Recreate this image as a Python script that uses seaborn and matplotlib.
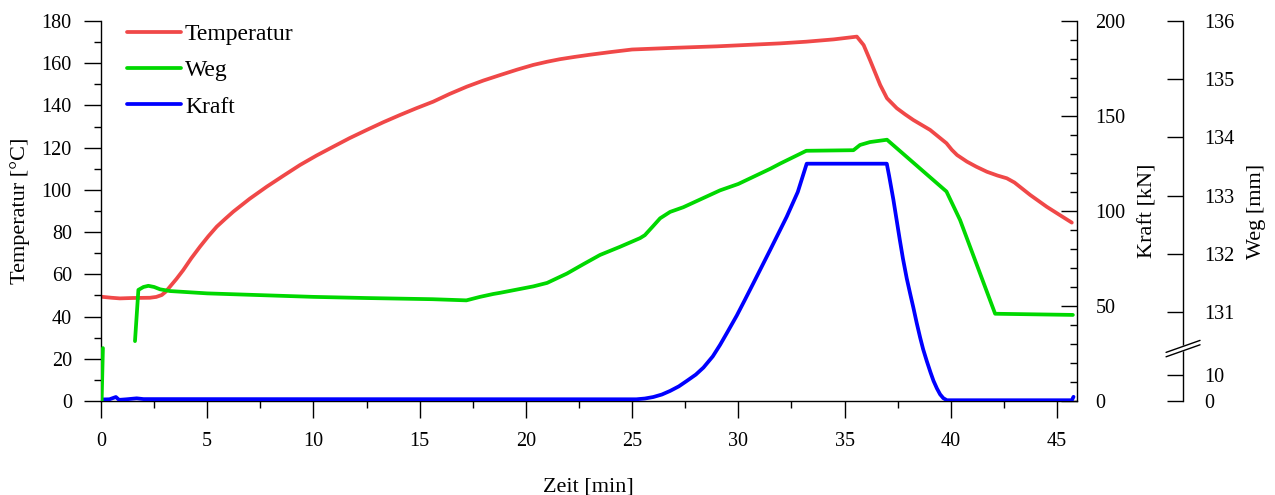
import numpy as np
import pandas as pd
import matplotlib
matplotlib.use("Agg")
import matplotlib.pyplot as plt
import seaborn as sns
from matplotlib.ticker import MultipleLocator, NullLocator

# ---- data ----
temp_t = [0.0, 0.5, 0.89, 1.5, 2.3, 2.6, 2.86, 3.05, 3.25, 3.55, 3.87, 4.25,
          4.66, 5.05, 5.45, 5.85, 6.23, 7.0, 7.8, 8.6, 9.37, 10.15, 10.94,
          11.7, 12.51, 13.3, 14.08, 14.85, 15.64, 16.4, 17.22, 18.0, 18.79,
          19.6, 20.35, 21.0, 21.6, 22.3, 23.0, 24.0, 25.0, 26.0, 27.0, 29.0,
          31.97, 33.2, 34.5, 35.58, 35.9, 36.2, 36.68, 37.0, 37.46, 37.85,
          38.24, 39.03, 39.8, 40.05, 40.3, 40.76, 41.2, 41.7, 42.2, 42.64,
          43.0, 43.74, 44.52, 45.1, 45.7]
temp_c = [49.4, 48.9, 48.6, 48.8, 48.9, 49.3, 50.2, 51.8, 54.2, 57.8, 62.0,
          67.6, 73.1, 78.0, 82.6, 86.3, 89.7, 95.8, 101.5, 106.8, 111.8, 116.3,
          120.5, 124.5, 128.4, 132.1, 135.5, 138.7, 141.8, 145.4, 148.9, 151.8,
          154.4, 157.0, 159.2, 160.7, 161.9, 163.0, 164.0, 165.3, 166.5, 166.9,
          167.3, 168.0, 169.4, 170.2, 171.3, 172.6, 168.6, 161.5, 149.7, 143.4,
          138.7, 135.8, 133.1, 128.4, 122.1, 119.0, 116.5, 113.4, 111.0, 108.6,
          106.8, 105.5, 103.5, 97.6, 92.0, 88.3, 84.5]

weg_spike_t = [0.03, 0.09]
weg_spike_mm = [0.0, 130.38]
weg_t = [1.6, 1.76, 2.0, 2.23, 2.5, 2.78, 3.25, 5.0, 7.49, 10.0, 12.5, 15.6,
         17.2, 17.84, 18.47, 18.79, 20.35, 21.0, 21.93, 22.7, 23.49, 24.43,
         25.38, 25.6, 26.0, 26.32, 26.79, 27.41, 29.14, 30.0, 31.5, 31.97,
         33.2, 35.42, 35.73, 36.2, 37.0, 39.8, 40.44, 42.09, 45.75]
weg_mm = [130.50, 131.38, 131.43, 131.45, 131.43, 131.39, 131.36, 131.32,
          131.29, 131.26, 131.24, 131.22, 131.20, 131.26, 131.31, 131.33,
          131.44, 131.50, 131.66, 131.82, 131.98, 132.12, 132.27, 132.32,
          132.48, 132.61, 132.72, 132.80, 133.09, 133.20, 133.46, 133.55,
          133.77, 133.78, 133.87, 133.92, 133.96, 133.07, 132.58, 130.97,
          130.95]

kraft_t = [0.0, 0.05, 0.4, 0.7, 0.85, 1.2, 1.68, 2.0, 25.2, 25.6, 26.0,
           26.4, 26.79, 27.2, 27.58, 28.0, 28.36, 28.8, 29.14, 29.5, 29.93,
           30.3, 30.71, 31.5, 32.28, 32.8, 33.22, 36.99, 37.1, 37.3, 37.45,
           37.6, 37.75, 37.93, 38.1, 38.24, 38.4, 38.56, 38.7, 38.87, 39.05,
           39.19, 39.35, 39.5, 39.65, 39.82, 45.7, 45.78]
kraft_kn = [0.0, 0.8, 0.9, 2.1, 0.6, 0.9, 1.4, 1.0, 0.9, 1.3, 2.1, 3.4, 5.3,
            7.7, 10.6, 13.9, 17.6, 23.5, 29.5, 36.5, 45.0, 53.0, 62.0, 79.5,
            97.0, 110.0, 124.9, 124.9, 118.5, 106.0, 95.5, 85.0, 75.0, 64.5,
            56.0, 49.2, 41.0, 33.4, 27.3, 21.1, 15.0, 10.6, 6.6, 3.5, 1.5, 0.4,
            0.4, 2.2]

RED = "#F04848"
GREEN = "#00D800"
BLUE = "#0000FF"

# ---- style ----
sns.set_style("ticks")
plt.rcParams["font.family"] = ["Liberation Serif", "DejaVu Serif"]
plt.rcParams["axes.edgecolor"] = "black"
plt.rcParams["xtick.color"] = "black"
plt.rcParams["ytick.color"] = "black"
plt.rcParams["text.color"] = "black"
plt.rcParams["axes.labelcolor"] = "black"

W, H = 1275, 495
fig = plt.figure(figsize=(W / 100, H / 100), dpi=100)
ax = fig.add_axes([101 / W, 1 - 401 / H, 975.7 / W, 380 / H])
ax2 = ax.twinx()
ax3 = ax.twinx()

temp_df = pd.DataFrame({"Zeit": temp_t, "Temperatur": temp_c})
kraft_df = pd.DataFrame({"Zeit": kraft_t, "Kraft": kraft_kn})
weg_df = pd.DataFrame({"Zeit": weg_t, "Weg": weg_mm})
spike_df = pd.DataFrame({"Zeit": weg_spike_t, "Weg": weg_spike_mm})

LW = 2.7
sns.lineplot(data=temp_df, x="Zeit", y="Temperatur", ax=ax, color=RED,
             lw=LW, estimator=None)
sns.lineplot(data=kraft_df, x="Zeit", y="Kraft", ax=ax2, color=BLUE,
             lw=LW, estimator=None)

# broken Weg axis: 0..20 below the break, 130.38.. above
def weg_fwd(v):
    return np.interp(v, [0, 20, 130.38, 140], [0, 52, 53, 53 + 9.62 * 58.3])

def weg_inv(p):
    return np.interp(p, [0, 52, 53, 53 + 9.62 * 58.3], [0, 20, 130.38, 140])

ax3.set_yscale("function", functions=(weg_fwd, weg_inv))
sns.lineplot(data=spike_df, x="Zeit", y="Weg", ax=ax3, color=GREEN,
             lw=LW, estimator=None)
sns.lineplot(data=weg_df, x="Zeit", y="Weg", ax=ax3, color=GREEN,
             lw=LW, estimator=None)

# ---- axes ----
ax.set_xlim(0, 45.93)
ax.set_ylim(0, 180)
ax2.set_ylim(0, 200)
ax3.set_ylim(0, 136)

ax.xaxis.set_major_locator(MultipleLocator(5))
ax.xaxis.set_minor_locator(MultipleLocator(2.5))
ax.yaxis.set_major_locator(MultipleLocator(20))
ax.yaxis.set_minor_locator(MultipleLocator(10))
ax2.yaxis.set_major_locator(MultipleLocator(50))
ax2.yaxis.set_minor_locator(MultipleLocator(10))
ax3.set_yticks([0, 10, 131, 132, 133, 134, 135, 136])
ax3.set_yticklabels(["0", "10", "131", "132", "133", "134", "135", "136"])
ax3.yaxis.set_minor_locator(NullLocator())

TS = 14.5
ax.tick_params(which="major", direction="out", length=12, width=1.0,
               labelsize=TS, pad=9)
ax.tick_params(axis="x", which="major", pad=10.5)
ax.tick_params(which="minor", direction="out", length=5, width=1.0)
ax2.tick_params(which="major", direction="in", length=11.5, width=1.0,
                labelsize=TS, pad=13.5)
ax2.tick_params(which="minor", direction="in", length=5, width=1.0)
ax3.tick_params(which="major", direction="in", length=11.5, width=1.0,
                labelsize=TS, pad=15)

for s in ["top", "right"]:
    ax.spines[s].set_visible(False)
for s in ["top", "left", "bottom"]:
    ax2.spines[s].set_visible(False)
    ax3.spines[s].set_visible(False)
ax3.spines["right"].set_position(("axes", 1.109))
for a in (ax, ax2, ax3):
    for sp in a.spines.values():
        sp.set_linewidth(1.0)
        sp.set_color("black")

ax.set_xlabel("Zeit [min]", fontsize=16, labelpad=19)
ax.set_ylabel("Temperatur [°C]", fontsize=16, labelpad=8)
ax2.set_ylabel("Kraft [kN]", fontsize=16, labelpad=9)
ax3.set_ylabel("Weg [mm]", fontsize=16, labelpad=9)

# legend
handles = [ax.get_lines()[0], ax3.get_lines()[-1], ax2.get_lines()[0]]
ax3.legend(handles, ["Temperatur", "Weg", "Kraft"], loc="upper left",
           bbox_to_anchor=(0.0267, 0.993), bbox_transform=ax.transAxes,
           frameon=False, fontsize=17, handlelength=2.3, handletextpad=0.15,
           labelspacing=0.62, borderpad=0, borderaxespad=0)

# break marks on the Weg spine
xs = 1.109
yb = (weg_fwd(75.0) - weg_fwd(0)) / (weg_fwd(136) - weg_fwd(0))
dx, dy, g = 17 / 975.7, 6 / 380, 2.2 / 380
ax3.fill([xs - dx, xs + dx, xs + dx, xs - dx],
         [yb - dy - g, yb + dy - g, yb + dy + g, yb - dy + g],
         color="white", transform=ax3.transAxes, clip_on=False, zorder=5)
for off in (-g, g):
    ax3.plot([xs - dx, xs + dx], [yb - dy + off, yb + dy + off], color="black",
             lw=1.0, transform=ax3.transAxes, clip_on=False, zorder=6)

fig.savefig("out.png", dpi=100)
